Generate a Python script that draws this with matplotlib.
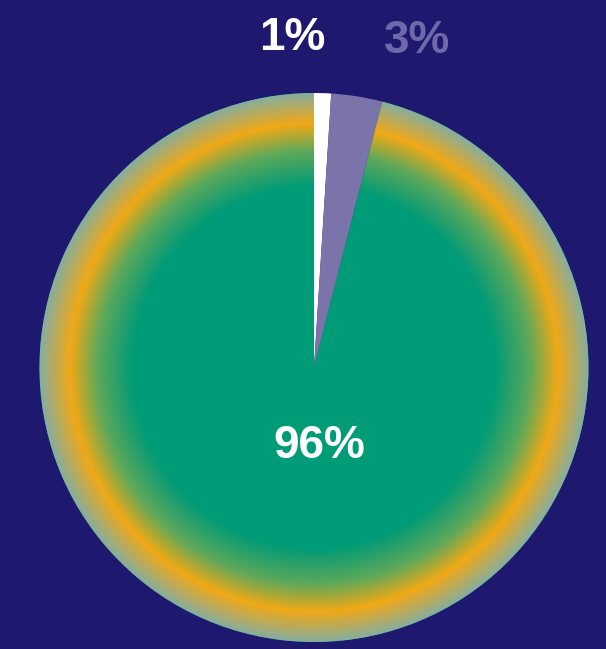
import matplotlib.pyplot as plt
import numpy as np
from matplotlib.colors import LinearSegmentedColormap

# Share of each group, in percent
labels = ['1%', '3%', '96%']
shares = [1, 3, 96]
colors = ['#ffffff', '#7a74aa', '#009b77']

bg = '#1f186f'
W, H = 606, 649
cx, cy, R = 314, H - 367.5, 274.5

fig = plt.figure(figsize=(W / 100, H / 100), dpi=100, facecolor=bg)
ax = fig.add_axes([0, 0, 1, 1])
ax.set_facecolor(bg)

wedges, _ = ax.pie(shares, colors=colors, startangle=90, counterclock=False,
                   center=(cx, cy), radius=R, frame=True,
                   wedgeprops=dict(linewidth=0))

# radial shading of the big slice: green core, orange band, grey-teal rim
ring = LinearSegmentedColormap.from_list('ring', [
    (0.0, '#009b77'), (0.66, '#009b77'), (0.79, '#5ea85a'),
    (0.89, '#f0a816'), (0.95, '#b8ab5e'), (1.0, '#86ae9e')])
yy, xx = np.mgrid[0:H, 0:W]
rr = np.hypot(xx + 0.5 - cx, (H - yy - 0.5) - cy) / R
img = ax.imshow(np.clip(rr, 0, 1), cmap=ring, vmin=0, vmax=1,
                extent=(0, W, 0, H), origin='upper', interpolation='bilinear', zorder=2)
img.set_clip_path(wedges[2])

ax.set_xlim(0, W)
ax.set_ylim(0, H)
ax.set_aspect('equal')
ax.axis('off')

font = ['Liberation Sans', 'DejaVu Sans']
ax.text(292, H - 50, labels[0], color='white', fontsize=33, fontweight='bold',
        family=font, ha='center', va='baseline')
ax.text(417, H - 53, labels[1], color='#6e69a8', fontsize=33, fontweight='bold',
        family=font, ha='center', va='baseline')
ax.text(319, H - 458, labels[2], color='white', fontsize=33, fontweight='bold',
        family=font, ha='center', va='baseline', zorder=5)

fig.savefig('out.png', dpi=100, facecolor=bg)
